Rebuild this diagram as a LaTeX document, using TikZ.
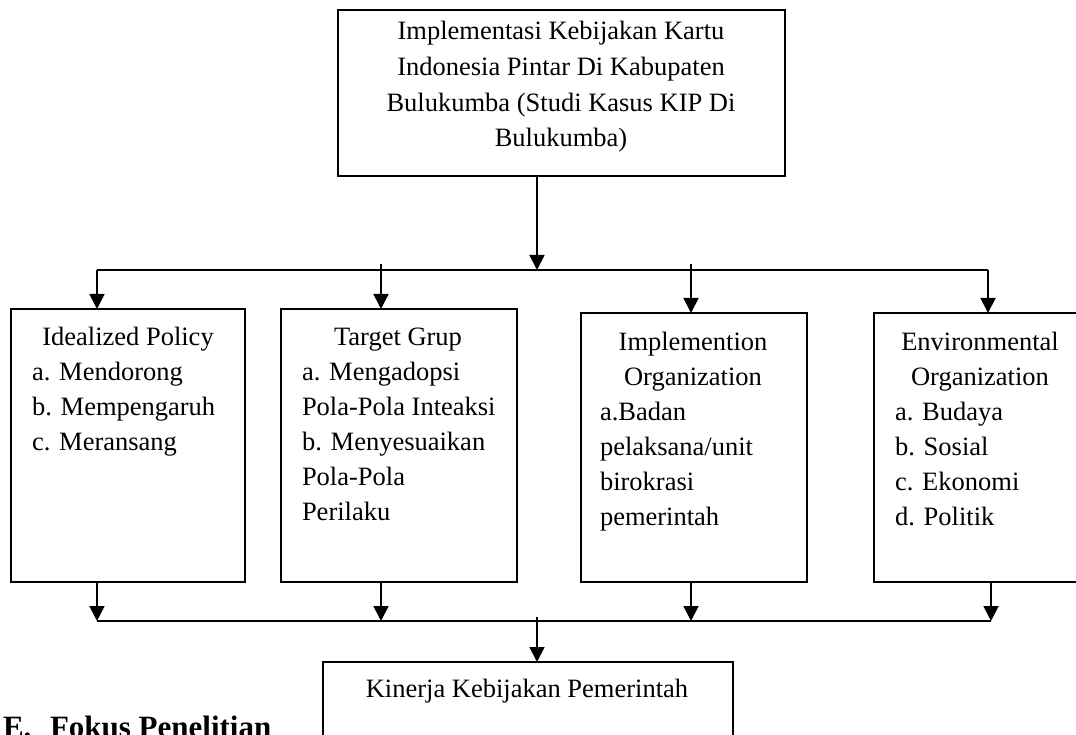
\documentclass[tikz,border=0pt]{standalone}
\usepackage{fontspec}
\setmainfont{Liberation Serif}
\usetikzlibrary{arrows.meta}

\tikzset{
  boxnode/.style={draw, line width=1.8pt, inner sep=0pt, outer sep=0pt},
  conn/.style={line width=1.8pt},
  arr/.style={conn, -{Triangle[width=15pt,length=15pt]}},
  txt/.style={inner sep=0pt, outer sep=0pt, font=\fontsize{26.5}{35}\selectfont},
  head/.style={inner sep=0pt, outer sep=0pt, font=\fontsize{31}{36}\selectfont\bfseries}
}

\begin{document}
\begin{tikzpicture}[x=1pt, y=-1pt]
  \useasboundingbox (0,0) rectangle (1076,735);
  \fill[white] (0,0) rectangle (1076,735);
  \clip (0,0) rectangle (1076,735);

  % boxes
  \node[boxnode, minimum width=447pt, minimum height=166pt] (top) at (561.5,93) {};
  \node[boxnode, minimum width=234pt, minimum height=273pt] (b1) at (128,445.5) {};
  \node[boxnode, minimum width=236pt, minimum height=273pt] (b2) at (399,445.5) {};
  \node[boxnode, minimum width=226pt, minimum height=269pt] (b3) at (694,447.5) {};
  \node[boxnode, minimum width=212pt, minimum height=269pt] (b4) at (980,447.5) {};
  \node[boxnode, minimum width=410pt, minimum height=138pt] (bot) at (528,731) {};

  % top box text
  \node[txt, anchor=base] (t1) at (561,40) {Implementasi Kebijakan Kartu};
  \node[txt, anchor=base] (t2) at (561,76) {Indonesia Pintar Di Kabupaten};
  \node[txt, anchor=base] (t3) at (561,112) {Bulukumba (Studi Kasus KIP Di};
  \node[txt, anchor=base] (t4) at (561,147) {Bulukumba)};

  % box 1 text
  \node[txt, anchor=base] (p0) at (128,345) {Idealized Policy};
  \node[txt, anchor=base west] (p1) at (32,380) {a. Mendorong};
  \node[txt, anchor=base west] (p2) at (32,415) {b. Mempengaruh};
  \node[txt, anchor=base west] (p3) at (32,450) {c. Meransang};

  % box 2 text
  \node[txt, anchor=base] (g0) at (398,345) {Target Grup};
  \node[txt, anchor=base west] (g1) at (302,380) {a. Mengadopsi};
  \node[txt, anchor=base west] (g2) at (302,415) {Pola-Pola Inteaksi};
  \node[txt, anchor=base west] (g3) at (302,450) {b. Menyesuaikan};
  \node[txt, anchor=base west] (g4) at (302,485) {Pola-Pola};
  \node[txt, anchor=base west] (g5) at (302,520) {Perilaku};

  % box 3 text
  \node[txt, anchor=base] (i0) at (693,350) {Implemention};
  \node[txt, anchor=base] (i1) at (693,385) {Organization};
  \node[txt, anchor=base west] (i2) at (600,420) {a.Badan};
  \node[txt, anchor=base west] (i3) at (600,455) {pelaksana/unit};
  \node[txt, anchor=base west] (i4) at (600,490) {birokrasi};
  \node[txt, anchor=base west] (i5) at (600,525) {pemerintah};

  % box 4 text
  \node[txt, anchor=base] (e0) at (980,350) {Environmental};
  \node[txt, anchor=base] (e1) at (980,385) {Organization};
  \node[txt, anchor=base west] (e2) at (895,420) {a. Budaya};
  \node[txt, anchor=base west] (e3) at (895,455) {b. Sosial};
  \node[txt, anchor=base west] (e4) at (895,490) {c. Ekonomi};
  \node[txt, anchor=base west] (e5) at (895,525) {d. Politik};

  % bottom box text
  \node[txt, anchor=base] (k0) at (527,697) {Kinerja Kebijakan Pemerintah};

  % section heading
  \node[head, anchor=base west] (h1) at (3,737) {E.};
  \node[head, anchor=base west] (h2) at (50,737) {Fokus Penelitian};

  % upper distribution bus
  \coordinate (ta) at (537,270);
  \coordinate (j1) at (97,270);
  \coordinate (j2) at (381,270);
  \coordinate (j3) at (691,270);
  \coordinate (j4) at (988,270);
  \draw[arr] (top.south -| ta) -- (ta);
  \draw[conn] (j1) -- (j4);
  \draw[conn] (j2) -- ++(0,-6);
  \draw[conn] (j3) -- ++(0,-6);
  \draw[arr] (j1) -- (b1.north -| j1);
  \draw[arr] (j2) -- (b2.north -| j2);
  \draw[arr] (j3) -- (b3.north -| j3);
  \draw[arr] (j4) -- (b4.north -| j4);

  % lower collecting bus
  \coordinate (k1) at (97,621);
  \coordinate (k2) at (381,621);
  \coordinate (k3) at (691,621);
  \coordinate (k4) at (991,621);
  \coordinate (km) at (537,617);
  \draw[arr] (b1.south -| k1) -- (k1);
  \draw[arr] (b2.south -| k2) -- (k2);
  \draw[arr] (b3.south -| k3) -- (k3);
  \draw[arr] (b4.south -| k4) -- (k4);
  \draw[conn] (k1) -- (k4);
  \draw[arr] (km) -- (bot.north -| km);
\end{tikzpicture}
\end{document}
